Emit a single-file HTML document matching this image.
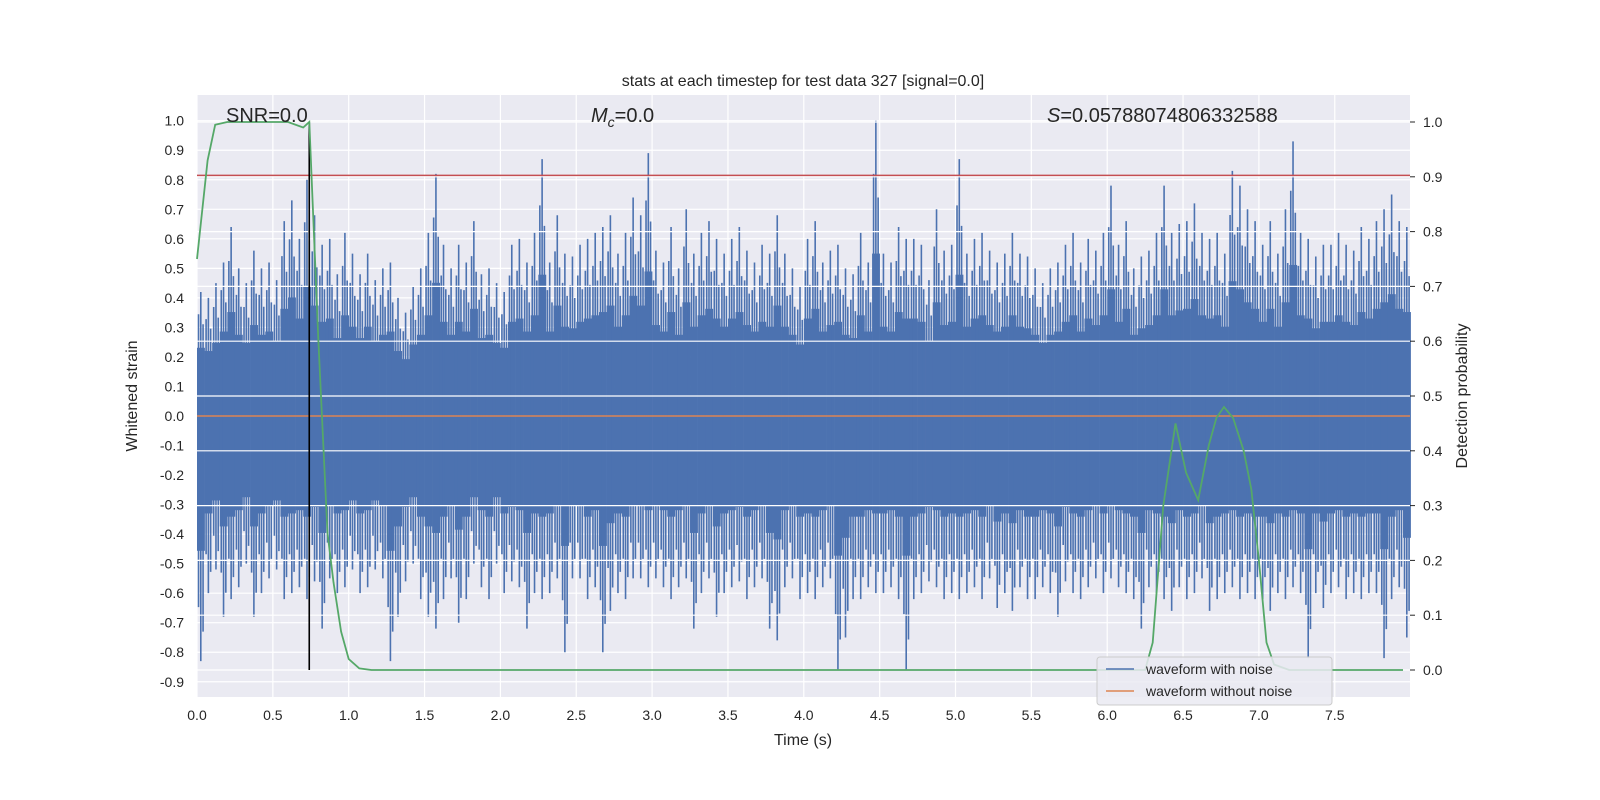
<!DOCTYPE html>
<html><head><meta charset="utf-8">
<style>
body{margin:0;background:#fff;}
svg{display:block;font-family:"Liberation Sans","DejaVu Sans",sans-serif;}
</style></head>
<body>
<svg id="chart" width="1600" height="800">
<rect x="197" y="95" width="1213" height="602" fill="#eaeaf2"/>
<g id="grid"></g>
<g id="noise"></g>
<g id="over"></g>
<g id="axes"></g>
<text x="803" y="86" text-anchor="middle" font-size="16" fill="#262626">stats at each timestep for test data 327 [signal=0.0]</text>
<text x="226" y="122" font-size="20" fill="#262626">SNR=0.0</text>
<text x="591" y="122" font-size="20" fill="#262626"><tspan font-style="italic">M</tspan><tspan font-style="italic" font-size="14" dy="5">c</tspan><tspan dy="-5">=0.0</tspan></text>
<text x="1047" y="122" font-size="20" fill="#262626"><tspan font-style="italic">S</tspan>=0.05788074806332588</text>
<text x="803" y="745" text-anchor="middle" font-size="16" fill="#262626">Time (s)</text>
<text transform="translate(137,396) rotate(-90)" text-anchor="middle" font-size="16" fill="#262626">Whitened strain</text>
<text transform="translate(1467,396) rotate(-90)" text-anchor="middle" font-size="16" fill="#262626">Detection probability</text>
<g>
<rect x="1097" y="657" width="235" height="48" rx="3" fill="#eaeaf2" fill-opacity="0.85" stroke="#cccccc"/>
<line x1="1106" y1="669" x2="1134" y2="669" stroke="#4c72b0" stroke-width="1.5"/>
<text x="1146" y="674" font-size="14" fill="#262626">waveform with noise</text>
<line x1="1106" y1="691" x2="1134" y2="691" stroke="#dd8452" stroke-width="1.5"/>
<text x="1146" y="696" font-size="14" fill="#262626">waveform without noise</text>
</g>
</svg>
<script>
const binMax=[0.42,0.40,0.45,0.52,0.64,0.50,0.45,0.56,0.50,0.52,
0.46,0.66,0.73,0.60,0.80,0.68,0.58,0.60,0.48,0.62,
0.55,0.48,0.55,0.46,0.50,0.52,0.40,0.35,0.44,0.50,
0.62,0.82,0.58,0.50,0.58,0.52,0.66,0.48,0.50,0.45,
0.42,0.58,0.60,0.52,0.62,0.87,0.52,0.68,0.55,0.54,
0.58,0.60,0.62,0.64,0.68,0.55,0.62,0.74,0.68,0.89,
0.56,0.52,0.64,0.50,0.70,0.55,0.62,0.66,0.60,0.55,
0.60,0.64,0.56,0.52,0.58,0.55,0.68,0.55,0.50,0.44,
0.60,0.66,0.52,0.56,0.58,0.50,0.48,0.62,0.52,1.0,
0.55,0.52,0.64,0.60,0.60,0.58,0.46,0.70,0.56,0.58,
0.87,0.55,0.60,0.62,0.56,0.52,0.55,0.62,0.55,0.54,
0.50,0.45,0.50,0.52,0.58,0.62,0.52,0.60,0.56,0.62,
0.78,0.58,0.66,0.50,0.54,0.56,0.62,0.78,0.62,0.65,
0.66,0.72,0.62,0.60,0.62,0.55,0.83,0.78,0.70,0.66,
0.58,0.66,0.55,0.70,0.93,0.62,0.60,0.54,0.58,0.58,
0.62,0.58,0.56,0.64,0.60,0.66,0.70,0.75,0.66,0.64];
const binMin=[-0.83,-0.60,-0.52,-0.68,-0.62,-0.58,-0.50,-0.68,-0.60,-0.55,
-0.52,-0.62,-0.60,-0.58,-0.62,-0.56,-0.72,-0.55,-0.60,-0.58,
-0.52,-0.60,-0.58,-0.52,-0.55,-0.83,-0.68,-0.56,-0.50,-0.62,
-0.68,-0.72,-0.62,-0.55,-0.70,-0.62,-0.50,-0.58,-0.62,-0.50,
-0.60,-0.56,-0.58,-0.72,-0.60,-0.62,-0.60,-0.55,-0.80,-0.55,
-0.55,-0.62,-0.58,-0.80,-0.66,-0.60,-0.62,-0.55,-0.55,-0.58,
-0.55,-0.58,-0.62,-0.58,-0.55,-0.72,-0.60,-0.55,-0.68,-0.60,
-0.58,-0.56,-0.62,-0.58,-0.55,-0.72,-0.76,-0.58,-0.55,-0.62,
-0.60,-0.62,-0.58,-0.55,-0.86,-0.75,-0.62,-0.62,-0.58,-0.60,
-0.60,-0.58,-0.62,-0.86,-0.62,-0.60,-0.56,-0.58,-0.62,-0.60,
-0.62,-0.60,-0.58,-0.62,-0.55,-0.65,-0.60,-0.66,-0.58,-0.62,
-0.62,-0.58,-0.60,-0.68,-0.56,-0.60,-0.62,-0.58,-0.55,-0.60,
-0.55,-0.58,-0.60,-0.62,-0.72,-0.58,-0.60,-0.62,-0.66,-0.58,
-0.62,-0.60,-0.55,-0.66,-0.62,-0.60,-0.58,-0.62,-0.60,-0.62,
-0.62,-0.66,-0.60,-0.62,-0.58,-0.60,-0.82,-0.60,-0.65,-0.60,
-0.58,-0.62,-0.60,-0.62,-0.60,-0.60,-0.82,-0.62,-0.58,-0.75];
const binWidth=0.05;
const probT=[0,0.07,0.12,0.2,0.4,0.6,0.7,0.74,0.8,0.86,0.9,0.95,1.0,1.07,1.15,3,5,6.25,6.3,6.37,6.45,6.52,6.6,6.67,6.72,6.77,6.83,6.9,6.95,7.0,7.05,7.1,7.2,7.95];
const probV=[0.75,0.93,0.995,1.0,1.0,1.0,0.99,1.0,0.6,0.25,0.16,0.07,0.02,0.003,0,0,0,0,0.05,0.3,0.45,0.36,0.31,0.41,0.46,0.48,0.46,0.4,0.33,0.2,0.05,0.01,0,0];
const xTicks=[0,0.5,1,1.5,2,2.5,3,3.5,4,4.5,5,5.5,6,6.5,7,7.5];
const yTicks=[1.0,0.9,0.8,0.7,0.6,0.5,0.4,0.3,0.2,0.1,0.0,-0.1,-0.2,-0.3,-0.4,-0.5,-0.6,-0.7,-0.8,-0.9];
const y2Ticks=[0,0.1,0.2,0.3,0.4,0.5,0.6,0.7,0.8,0.9,1.0];
const thresholdLeft=0.815;
const markerT=0.74;

const NS="http://www.w3.org/2000/svg";
const X=t=>197+t*151.7;
const Y=v=>416-v*295.3;
const Y2=p=>670-p*548;
function mk(tag,attrs,parent){const e=document.createElementNS(NS,tag);for(const k in attrs)e.setAttribute(k,attrs[k]);parent.appendChild(e);return e;}
const grid=document.getElementById('grid'),noise=document.getElementById('noise'),over=document.getElementById('over'),axes=document.getElementById('axes');
xTicks.forEach(t=>{
 const l=mk('line',{x1:X(t),x2:X(t),y1:95,y2:697,stroke:'#fff','stroke-width':1.2},grid);
 
 
 const tx=mk('text',{x:X(t),y:720,'text-anchor':'middle','font-size':14,fill:'#262626'},axes);
 tx.textContent=t.toFixed(1);
 
 
});
yTicks.forEach(v=>{
 const l=mk('line',{x1:197,x2:1410,y1:Y(v),y2:Y(v),stroke:'#fff','stroke-width':1.2},grid);
 
 
 const tx=mk('text',{x:184,y:Y(v)+5,'text-anchor':'end','font-size':14,fill:'#262626'},axes);
 tx.textContent=v.toFixed(1);
 
 
});
binMax.forEach((mx,i)=>{
 const mn=binMin[i],x0=X(i*binWidth),w=X(binWidth)-X(0);
 const r=mk('rect',{x:x0,y:Y(mx*0.55),width:w+0.3,height:Y(mn*0.55)-Y(mx*0.55),fill:'#4c72b0'},noise);
 
 
 [[0.5,1,1],[0.2,0.82,0.78],[0.8,0.74,0.88]].forEach(f=>{
  const xx=x0+w*f[0];
  const l=mk('line',{x1:xx,x2:xx,y1:Y(mx*f[1]),y2:Y(mn*f[2]),stroke:'#4c72b0','stroke-width':1.6},noise);
  
  
 });
});
y2Ticks.forEach(p=>{
 const l=mk('line',{x1:197,x2:1410,y1:Y2(p),y2:Y2(p),stroke:'#fff','stroke-width':1.2},over);
 
 
 const tk=mk('line',{x1:1410,x2:1415,y1:Y2(p),y2:Y2(p),stroke:'#262626','stroke-width':1},axes);
 
 
 const tx=mk('text',{x:1423,y:Y2(p)+5,'font-size':14,fill:'#262626'},axes);
 tx.textContent=p.toFixed(1);
 
 
});
const zl=mk('line',{x1:197,x2:1410,y1:Y(0),y2:Y(0),stroke:'#dd8452','stroke-width':1.5},over);


const th=mk('line',{x1:197,x2:1410,y1:Y(thresholdLeft),y2:Y(thresholdLeft),stroke:'#c44e52','stroke-width':1.5},over);


const mkLine=mk('line',{x1:X(markerT),x2:X(markerT),y1:Y2(1),y2:Y2(0),stroke:'#000','stroke-width':1.6},over);


const pts=probT.map((t,i)=>X(t).toFixed(1)+','+Y2(probV[i]).toFixed(1)).join(' ');
const pl=mk('polyline',{points:pts,fill:'none',stroke:'#55a868','stroke-width':1.8},over);


</script>
</body></html>
